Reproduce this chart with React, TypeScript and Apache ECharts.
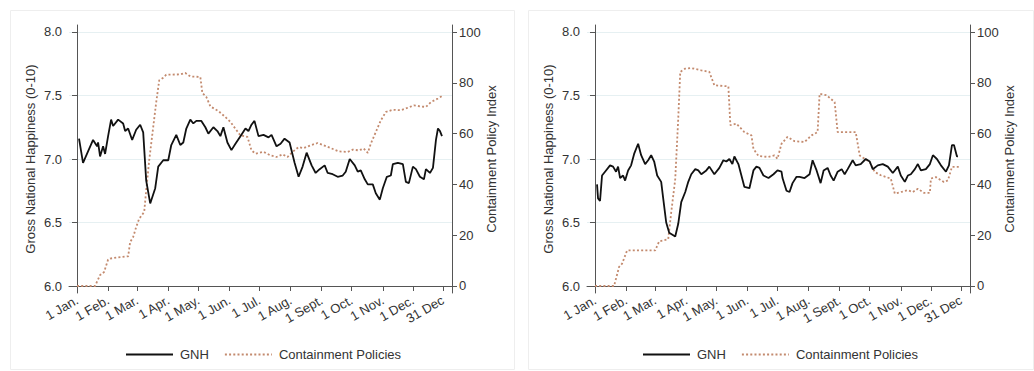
import React, { useEffect, useRef } from "react";
import * as echarts from "echarts";

// Tick positions (day of year 2020, 0 = 1 Jan) and labels
const tickDays = [0, 31, 60, 91, 121, 152, 182, 213, 244, 274, 305, 335, 365];
const tickLabels = ["1 Jan.", "1 Feb.", "1 Mar.", "1 Apr.", "1 May.", "1 Jun.", "1 Jul.", "1 Aug.", "1 Sept.", "1 Oct.", "1 Nov.", "1 Dec.", "31 Dec"];
const gnhTicks = [6.0, 6.5, 7.0, 7.5, 8.0];
const policyTicks = [0, 20, 40, 60, 80, 100];

// Left panel: GNH
const leftGnhDays = [2, 6, 11, 16, 20, 21, 23, 26, 28, 31, 34, 36, 41, 46, 48, 51, 55, 59, 63, 66, 69, 73, 78, 81, 86, 91, 94, 99, 103, 106, 109, 113, 116, 119, 124, 128, 131, 136, 140, 143, 146, 150, 154, 158, 163, 168, 171, 174, 177, 181, 186, 191, 194, 199, 203, 207, 212, 217, 221, 225, 229, 234, 238, 242, 247, 250, 255, 260, 265, 268, 272, 277, 280, 283, 287, 290, 295, 298, 302, 305, 309, 313, 315, 320, 325, 328, 331, 335, 338, 342, 346, 348, 352, 355, 358, 360, 362, 364];
const leftGnhValues = [7.16, 6.97, 7.06, 7.15, 7.10, 7.13, 7.02, 7.10, 7.04, 7.18, 7.31, 7.26, 7.31, 7.28, 7.22, 7.24, 7.15, 7.23, 7.27, 7.21, 6.83, 6.65, 6.77, 6.94, 6.99, 6.99, 7.11, 7.19, 7.11, 7.13, 7.24, 7.31, 7.28, 7.30, 7.30, 7.25, 7.20, 7.25, 7.22, 7.18, 7.25, 7.13, 7.07, 7.12, 7.18, 7.24, 7.22, 7.27, 7.30, 7.18, 7.19, 7.17, 7.19, 7.10, 7.12, 7.16, 7.13, 6.97, 6.86, 6.94, 7.05, 6.95, 6.89, 6.92, 6.95, 6.89, 6.88, 6.86, 6.87, 6.90, 7.00, 6.95, 6.90, 6.91, 6.84, 6.80, 6.80, 6.73, 6.68, 6.77, 6.86, 6.87, 6.96, 6.97, 6.96, 6.82, 6.81, 6.94, 6.92, 6.86, 6.84, 6.92, 6.89, 6.93, 7.15, 7.24, 7.22, 7.18];

// Left panel: containment policy index
const leftPolicyDays = [0, 18, 23, 27, 31, 33, 39, 51, 53, 56, 59, 62, 67, 69, 72, 76, 79, 82, 86, 89, 103, 108, 113, 123, 125, 129, 133, 141, 148, 153, 158, 163, 170, 174, 178, 186, 193, 199, 205, 210, 215, 221, 226, 233, 240, 246, 253, 261, 270, 275, 281, 286, 290, 293, 298, 303, 308, 315, 323, 330, 336, 343, 348, 353, 360, 365];
const leftPolicyValues = [0, 0, 4.3, 5.5, 10.4, 10.8, 11.2, 11.7, 17.3, 19.3, 23.2, 26.5, 29.1, 37.7, 49.5, 62.6, 72.4, 81, 82, 83.2, 83.3, 83.9, 82.5, 82.3, 76, 74.4, 70.7, 68.9, 66.5, 64.6, 61.9, 59.3, 58.7, 53.4, 52.1, 52.8, 51.4, 50.8, 51.8, 50.8, 52.8, 54.7, 54.3, 55.4, 56.3, 55.4, 54.3, 53, 52.8, 53.7, 53.4, 54.1, 52.4, 56, 60.6, 65.2, 68.5, 69.4, 69.2, 70.2, 71.1, 70.7, 70.5, 72.4, 73.8, 75];

// Right panel: GNH
const rightGnhDays = [2, 3, 5, 7, 10, 15, 18, 21, 23, 25, 28, 30, 33, 36, 39, 43, 46, 50, 53, 56, 59, 62, 66, 68, 71, 74, 76, 80, 83, 86, 90, 93, 96, 100, 103, 106, 111, 114, 119, 124, 128, 131, 134, 137, 139, 143, 146, 149, 154, 158, 161, 164, 168, 173, 178, 182, 186, 187, 191, 194, 197, 201, 204, 209, 214, 217, 221, 225, 228, 232, 235, 238, 242, 246, 249, 252, 257, 260, 265, 270, 274, 277, 282, 287, 292, 297, 302, 305, 309, 312, 315, 319, 322, 325, 330, 334, 337, 341, 345, 350, 353, 356, 358, 361, 362];
const rightGnhValues = [6.80, 6.69, 6.67, 6.87, 6.90, 6.95, 6.94, 6.90, 6.94, 6.85, 6.87, 6.83, 6.91, 6.95, 7.04, 7.12, 7.03, 6.96, 6.99, 7.03, 6.98, 6.87, 6.82, 6.69, 6.50, 6.42, 6.41, 6.39, 6.49, 6.66, 6.74, 6.82, 6.88, 6.92, 6.91, 6.88, 6.91, 6.94, 6.88, 6.93, 6.99, 6.98, 7.00, 6.96, 7.02, 6.96, 6.87, 6.78, 6.77, 6.91, 6.94, 6.93, 6.87, 6.85, 6.88, 6.91, 6.90, 6.85, 6.75, 6.74, 6.81, 6.86, 6.86, 6.85, 6.88, 6.99, 6.91, 6.81, 6.91, 6.93, 6.87, 6.83, 6.90, 6.92, 6.88, 6.92, 6.99, 6.95, 6.96, 7.00, 6.98, 6.92, 6.95, 6.96, 6.94, 6.89, 6.94, 6.87, 6.82, 6.87, 6.88, 6.92, 6.96, 6.91, 6.92, 6.96, 7.03, 7.00, 6.95, 6.90, 6.95, 7.11, 7.11, 7.02, 7.02];

// Right panel: containment policy index
const rightPolicyDays = [0, 19, 24, 27, 32, 60, 64, 73, 76, 80, 83, 85, 90, 96, 106, 114, 119, 133, 135, 141, 149, 156, 158, 163, 173, 179, 182, 186, 192, 199, 209, 216, 222, 224, 231, 239, 242, 260, 264, 269, 274, 279, 285, 295, 299, 305, 312, 317, 322, 328, 334, 335, 340, 348, 352, 356, 365];
const rightPolicyValues = [0, 0, 7.5, 8.8, 14, 14, 17.6, 18.4, 29, 42, 65.9, 84.3, 85.6, 85.8, 84.9, 84.3, 79, 78.6, 63.3, 63.9, 60.6, 59.3, 54, 51.2, 50.8, 51.4, 50.1, 56, 58.7, 57, 56.7, 59.3, 60.6, 75.7, 75.1, 72.4, 60.6, 60.6, 51.4, 50.1, 48.8, 44.9, 43.6, 42.3, 36.4, 37, 37.7, 37, 38.3, 36.7, 36.7, 42.3, 42.9, 40.9, 41.6, 46.9, 46.9];

const pairs = (xs: number[], ys: number[]) => xs.map((x, i) => [x, ys[i]]);

const FONT = "Liberation Sans";
const TEXT = "#333333";
const AXIS = "#555555";
const POLICY_COLOR = "#c38a6e";

function xAxisFor(gridIndex: number) {
  return {
    type: "value",
    gridIndex,
    min: -8,
    max: 374,
    axisLine: { show: true, lineStyle: { color: AXIS, width: 1 } },
    axisTick: { show: true, customValues: tickDays, length: 5, lineStyle: { color: AXIS } },
    axisLabel: {
      customValues: tickDays,
      rotate: 30,
      fontFamily: FONT,
      fontSize: 13,
      color: TEXT,
      margin: 6,
      formatter: (v: number) => {
        const i = tickDays.indexOf(Math.round(v));
        return i >= 0 ? tickLabels[i] : "";
      },
    },
    splitLine: { show: false },
  };
}

function gnhAxis(gridIndex: number) {
  return {
    type: "value",
    gridIndex,
    position: "left",
    min: 5.945,
    max: 8.055,
    name: "Gross National Happiness (0-10)",
    nameLocation: "middle",
    nameGap: 32,
    nameTextStyle: { fontFamily: FONT, fontSize: 13, color: TEXT },
    axisLine: { show: true, lineStyle: { color: AXIS, width: 1 } },
    axisTick: { show: true, customValues: gnhTicks, length: 5, lineStyle: { color: AXIS } },
    axisLabel: {
      customValues: gnhTicks,
      fontFamily: FONT,
      fontSize: 13,
      color: TEXT,
      margin: 7,
      formatter: (v: number) => v.toFixed(1),
    },
    splitLine: { show: true, lineStyle: { color: "#e6f0f2", width: 1 } },
  };
}

function policyAxis(gridIndex: number) {
  return {
    type: "value",
    gridIndex,
    position: "right",
    min: -2.756,
    max: 102.756,
    name: "Containment Policy Index",
    nameLocation: "middle",
    nameGap: 33,
    nameRotate: 90,
    nameTextStyle: { fontFamily: FONT, fontSize: 13, color: TEXT },
    axisLine: { show: true, lineStyle: { color: AXIS, width: 1 } },
    axisTick: { show: true, customValues: policyTicks, length: 5, lineStyle: { color: AXIS } },
    axisLabel: {
      customValues: policyTicks,
      fontFamily: FONT,
      fontSize: 13,
      color: TEXT,
      margin: 7,
    },
    splitLine: { show: false },
  };
}

function gnhSeries(xi: number, yi: number, data: number[][]) {
  return {
    name: "GNH",
    type: "line",
    xAxisIndex: xi,
    yAxisIndex: yi,
    data,
    symbol: "none",
    lineStyle: { color: "#111111", width: 1.8 },
    itemStyle: { color: "#111111" },
    z: 3,
  };
}

function policySeries(xi: number, yi: number, data: number[][]) {
  return {
    name: "Containment Policies",
    type: "line",
    xAxisIndex: xi,
    yAxisIndex: yi,
    data,
    symbol: "none",
    lineStyle: { color: POLICY_COLOR, width: 1.8, type: [2, 2.2] },
    itemStyle: { color: POLICY_COLOR },
    z: 2,
  };
}

function legendAt(left: number) {
  return {
    left,
    top: 343,
    orient: "horizontal",
    itemWidth: 47,
    itemHeight: 14,
    itemGap: 15,
    data: ["GNH", "Containment Policies"],
    itemStyle: { opacity: 0 },
    textStyle: { fontFamily: FONT, fontSize: 13, color: TEXT, padding: [0, 0, 0, 2] },
    selectedMode: false,
  };
}

export default function App() {
  const ref = useRef<HTMLDivElement>(null);
  useEffect(() => {
    if (!ref.current) return;
    const chart = echarts.init(ref.current, undefined, { renderer: "svg" });
    chart.setOption({
      animation: false,
      backgroundColor: "#ffffff",
      graphic: [
        { type: "rect", shape: { x: 10.5, y: 10.5, width: 504, height: 359 }, style: { fill: "none", stroke: "#eeeeee", lineWidth: 1 }, silent: true },
        { type: "rect", shape: { x: 528.5, y: 10.5, width: 505, height: 359 }, style: { fill: "none", stroke: "#eeeeee", lineWidth: 1 }, silent: true },
      ],
      grid: [
        { left: 69, right: 582, top: 25, bottom: 78 },
        { left: 587, right: 64, top: 25, bottom: 78 },
      ],
      xAxis: [xAxisFor(0), xAxisFor(1)],
      yAxis: [gnhAxis(0), policyAxis(0), gnhAxis(1), policyAxis(1)],
      legend: [legendAt(120), legendAt(637)],
      series: [
        gnhSeries(0, 0, pairs(leftGnhDays, leftGnhValues)),
        policySeries(0, 1, pairs(leftPolicyDays, leftPolicyValues)),
        gnhSeries(1, 2, pairs(rightGnhDays, rightGnhValues)),
        policySeries(1, 3, pairs(rightPolicyDays, rightPolicyValues)),
      ],
    });
    return () => chart.dispose();
  }, []);
  return <div ref={ref} style={{ position: "absolute", left: 0, top: 0, width: 1034, height: 371 }} />;
}
